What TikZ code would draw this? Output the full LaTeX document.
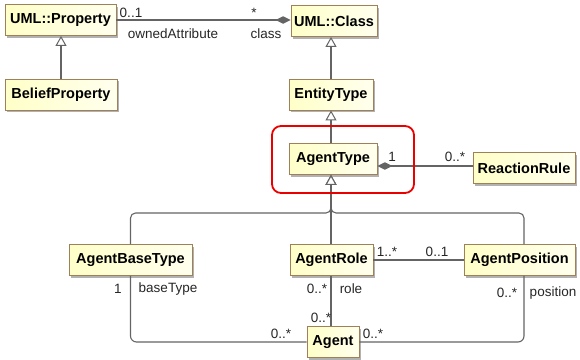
\documentclass[tikz,border=0pt]{standalone}
\usepackage{fontspec}
\setmainfont{Liberation Sans}
\usetikzlibrary{arrows.meta,shadows}
\definecolor{boxborder}{RGB}{160,128,88}
\definecolor{cream}{RGB}{255,255,200}
\definecolor{creamlight}{RGB}{255,255,238}
\definecolor{linegray}{RGB}{100,100,100}
\definecolor{hlred}{RGB}{235,0,0}
\begin{document}
\begin{tikzpicture}[x=1pt,y=-1pt,
  cls/.style={draw=boxborder, line width=0.9pt, left color=cream, right color=creamlight,
    inner sep=0pt, minimum height=31pt, text=black,
    font=\fontsize{14.5}{16}\selectfont\bfseries,
    drop shadow={shadow xshift=2pt, shadow yshift=-2pt, fill=black!30, opacity=1}},
  lbl/.style={inner sep=0pt, text=black!85, font=\fontsize{13.5}{15}\selectfont},
  conn/.style={draw=linegray, line width=1.1pt},
  gen/.style={conn, -{Triangle[length=10pt,width=11pt,fill=white,line width=1pt]}},
  compend/.style={conn, -{Diamond[length=15pt,width=7.5pt]}},
  compstart/.style={conn, {Diamond[length=15pt,width=7.5pt]}-},
  hilite/.style={draw=hlred, line width=1.8pt, rounded corners=9pt, inner sep=0pt}
]
\useasboundingbox (0,0) rectangle (580,359);

% classes
\node[cls, minimum width=111pt] (prop) at (60.5,20) {UML::Property};
\node[cls, minimum width=112pt] (belief) at (61,94.5) {BeliefProperty};
\node[cls, minimum width=86pt] (cls) at (334,21) {UML::Class};
\node[cls, minimum width=84pt] (et) at (331,94.5) {EntityType};
\node[cls, minimum width=88pt] (at) at (333,159) {AgentType};
\node[cls, minimum width=102pt] (rr) at (524,168) {ReactionRule};
\node[cls, minimum width=123pt] (abt) at (130.5,260) {AgentBaseType};
\node[cls, minimum width=83pt] (ar) at (331.5,260) {AgentRole};
\node[cls, minimum width=111pt] (ap) at (519.5,260) {AgentPosition};
\node[cls, minimum width=52pt] (agent) at (333,342) {Agent};

% helper coordinates
\coordinate (yrr) at (0,166);
\coordinate (tj) at (331,213);
\coordinate (apx) at (524,0);
\coordinate (genx) at (331,0);

% generalizations
\draw[gen] (belief.north) -- (belief.north |- prop.south);
\draw[gen] (et.north -| genx) -- (cls.south -| genx);
\draw[gen] (at.north -| genx) -- (et.south -| genx);
\draw[gen] (ar.north -| genx) -- (at.south -| genx);
\draw[gen, rounded corners=5pt] (abt.north) |- (tj) -- (at.south -| genx);
\draw[gen, rounded corners=5pt] (ap.north -| apx) |- (tj) -- (at.south -| genx);

% associations
\draw[compend] (prop.east) -- (prop.east -| cls.west);
\draw[compstart] (at.east |- yrr) -- (rr.west |- yrr);
\draw[conn] (ar.east) -- (ap.west);
\draw[conn] (ar.south -| genx) -- (agent.north -| genx);
\draw[conn, rounded corners=6pt] (abt.south) |- (agent.west);
\draw[conn, rounded corners=6pt] (ap.south -| apx) |- (agent.east);

% labels
\node[lbl] (l01a) at (131,13) {0..1};
\node[lbl] (lowned) at (173,34) {ownedAttribute};
\node[lbl] (lstar) at (254,13) {*};
\node[lbl] (lclass) at (266,34) {class};
\node[lbl] (l1at) at (392,157) {1};
\node[lbl] (l0rr) at (455,157) {0..*};
\node[lbl] (l1abt) at (118,289) {1};
\node[lbl] (lbase) at (168,289) {baseType};
\node[lbl] (l0ar) at (317,289) {0..*};
\node[lbl] (lrole) at (351,289) {role};
\node[lbl] (l0agtop) at (321,318) {0..*};
\node[lbl] (l0agl) at (281,334) {0..*};
\node[lbl] (l1ar) at (387,252) {1..*};
\node[lbl] (l01ap) at (437,252) {0..1};
\node[lbl] (l0ap) at (507,293) {0..*};
\node[lbl] (lpos) at (553,293) {position};
\node[lbl] (l0agr) at (373,334) {0..*};

% highlight
\node[hilite, minimum width=142pt, minimum height=67pt] (hl) at (343,159.5) {};
\end{tikzpicture}
\end{document}
